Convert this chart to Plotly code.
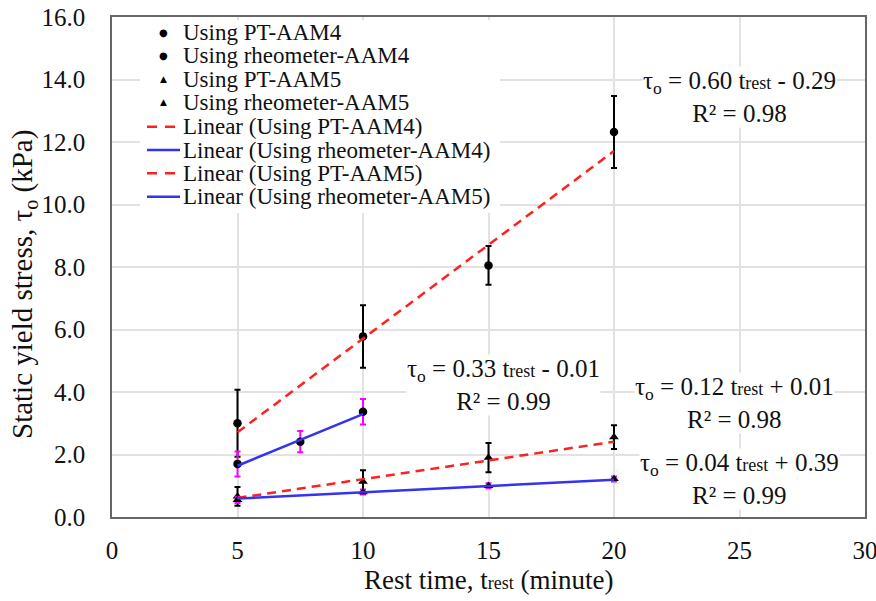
import plotly.graph_objects as go

# ---- measured data: static yield stress (kPa) vs rest time (minute) ----
t_pt4 = [5, 10, 15, 20]
y_pt4 = [3.00, 5.78, 8.05, 12.32]
e_pt4 = [1.07, 1.00, 0.62, 1.15]

t_rh4 = [5, 7.5, 10]
y_rh4 = [1.70, 2.41, 3.37]
e_rh4 = [0.40, 0.34, 0.41]

t_pt5 = [5, 10, 15, 20]
y_pt5 = [0.66, 1.13, 1.90, 2.56]
e_pt5 = [0.30, 0.37, 0.47, 0.38]

t_rh5 = [5, 10, 15, 20]
y_rh5 = [0.55, 0.80, 1.00, 1.22]
e_rh5 = [0.10, 0.08, 0.08, 0.08]

# ---- linear trendlines: tau = slope * t + intercept ----
fit_names = ["Linear (Using PT-AAM4)", "Linear (Using rheometer-AAM4)",
             "Linear (Using PT-AAM5)", "Linear (Using rheometer-AAM5)"]
fit_slope = [0.60, 0.33, 0.12, 0.04]
fit_icept = [-0.29, -0.01, 0.01, 0.39]
fit_r2 = [0.98, 0.99, 0.98, 0.99]
fit_tmin = [5, 5, 5, 5]
fit_tmax = [20, 10, 20, 20]
# equation label centres (rest time, stress)
eq_x = [25.0, 15.6, 24.8, 25.0]
eq_y = [13.44, 4.22, 3.65, 1.23]

x_ticks = [0, 5, 10, 15, 20, 25, 30]
y_ticks = [0, 2, 4, 6, 8, 10, 12, 14, 16]

FONT = "Times New Roman, Liberation Serif, serif"
RED = "#FF2020"
BLUE = "#3333F0"
MAGENTA = "#FF00FF"

fig = go.Figure()


def add_points(t, y, e, name, symbol, ecolor):
    fig.add_trace(go.Scatter(
        x=t, y=y, mode="markers", name=name,
        marker=dict(symbol=symbol, size=8.5, color="black"),
        error_y=dict(type="data", array=e, visible=True, color=ecolor,
                     thickness=2, width=3),
        showlegend=False))


add_points(t_pt4, y_pt4, e_pt4, "Using PT-AAM4", "circle", "black")
add_points(t_rh4, y_rh4, e_rh4, "Using rheometer-AAM4", "circle", MAGENTA)
add_points(t_pt5, y_pt5, e_pt5, "Using PT-AAM5", "triangle-up", "black")
add_points(t_rh5, y_rh5, e_rh5, "Using rheometer-AAM5", "triangle-up", MAGENTA)

fit_color = [RED, BLUE, RED, BLUE]
fit_dash = ["9px,6px", "solid", "9px,6px", "solid"]
for i in range(4):
    xs = [fit_tmin[i], fit_tmax[i]]
    ys = [fit_slope[i] * v + fit_icept[i] for v in xs]
    fig.add_trace(go.Scatter(
        x=xs, y=ys, mode="lines", name=fit_names[i],
        line=dict(color=fit_color[i], width=2.5, dash=fit_dash[i]),
        showlegend=False))

SMALL = "<span style='font-size:18px'>rest</span>"
annotations = []
for i in range(4):
    sign = "-" if fit_icept[i] < 0 else "+"
    txt = (f"τ<sub>o</sub> = {fit_slope[i]:.2f} t{SMALL} {sign} {abs(fit_icept[i]):.2f}"
           f"<br>R² = {fit_r2[i]:.2f}")
    annotations.append(dict(
        x=eq_x[i], y=eq_y[i], xref="x", yref="y", text=txt, showarrow=False,
        align="center", bgcolor="white", borderpad=0,
        font=dict(family=FONT, size=25, color="#111")))


# ---- legend, laid out by hand in pixel units ----
def px2x(px):
    return (px - 112) / 753


def py2y(py):
    return (517 - py) / 500


def px2t(px):
    return (px - 112) / 753 * 30


def py2v(py):
    return (517 - py) / 500 * 16


legend_labels = ["Using PT-AAM4", "Using rheometer-AAM4", "Using PT-AAM5",
                 "Using rheometer-AAM5"] + fit_names
legend_kind = ["circle", "circle", "tri", "tri", "red", "blue", "red", "blue"]
row_y = [32.3, 55.7, 79.0, 102.3, 126.7, 150.0, 173.3, 196.7]

# white panel behind the legend, drawn between gridlines and traces
shapes = [dict(type="rect", xref="x", yref="y",
               x0=px2t(140), x1=px2t(500), y0=py2v(213), y1=py2v(20),
               fillcolor="white", line=dict(width=0), layer="between")]

for lab, kind, ry in zip(legend_labels, legend_kind, row_y):
    annotations.append(dict(
        x=px2x(181), y=py2y(ry), xref="paper", yref="paper", text=lab,
        showarrow=False, xanchor="left", yanchor="middle",
        font=dict(family=FONT, size=23, color="#111")))
    if kind == "circle":
        annotations.append(dict(
            x=px2x(163), y=py2y(ry), xref="paper", yref="paper", text="●",
            showarrow=False, xanchor="center", yanchor="middle",
            font=dict(family="DejaVu Sans", size=10, color="black")))
    elif kind == "tri":
        annotations.append(dict(
            x=px2x(163), y=py2y(ry), xref="paper", yref="paper", text="▲",
            showarrow=False, xanchor="center", yanchor="middle",
            font=dict(family="DejaVu Sans", size=9, color="black")))
    else:
        shapes.append(dict(type="line", xref="paper", yref="paper",
                           x0=px2x(147), x1=px2x(180), y0=py2y(ry), y1=py2y(ry),
                           line=dict(color=RED if kind == "red" else BLUE, width=2.5,
                                     dash="10px,8px" if kind == "red" else "solid")))

# axis titles
annotations.append(dict(
    x=0.5, y=py2y(580), xref="paper", yref="paper",
    text=f"Rest time, t{SMALL} (minute)", showarrow=False,
    xanchor="center", yanchor="middle",
    font=dict(family=FONT, size=27, color="#111")))
annotations.append(dict(
    x=px2x(24), y=py2y(285), xref="paper", yref="paper",
    text="Static yield stress, τ<sub>o</sub> (kPa)", showarrow=False,
    textangle=-90, xanchor="center", yanchor="middle",
    font=dict(family=FONT, size=29, color="#111")))

axis_common = dict(showline=True, linecolor="#666666", linewidth=1.5, mirror=True,
                   showgrid=True, gridcolor="#E2E2E2", gridwidth=1.5,
                   zeroline=False, ticks="", automargin=False,
                   ticklabeloverflow="allow",
                   tickfont=dict(family=FONT, size=25, color="#111"))

fig.update_layout(
    width=876, height=601,
    margin=dict(l=112, r=11, t=17, b=84),
    paper_bgcolor="white", plot_bgcolor="white",
    font=dict(family=FONT),
    xaxis=dict(range=[0, 30], tickvals=x_ticks,
               ticktext=[str(v) for v in x_ticks], ticklabelstandoff=10,
               **axis_common),
    yaxis=dict(range=[0, 16], tickvals=y_ticks,
               ticktext=[f"{v:.1f}" for v in y_ticks], ticklabelstandoff=20,
               **axis_common),
    annotations=annotations,
    shapes=shapes,
    showlegend=False,
)

fig.write_html("out.html")
